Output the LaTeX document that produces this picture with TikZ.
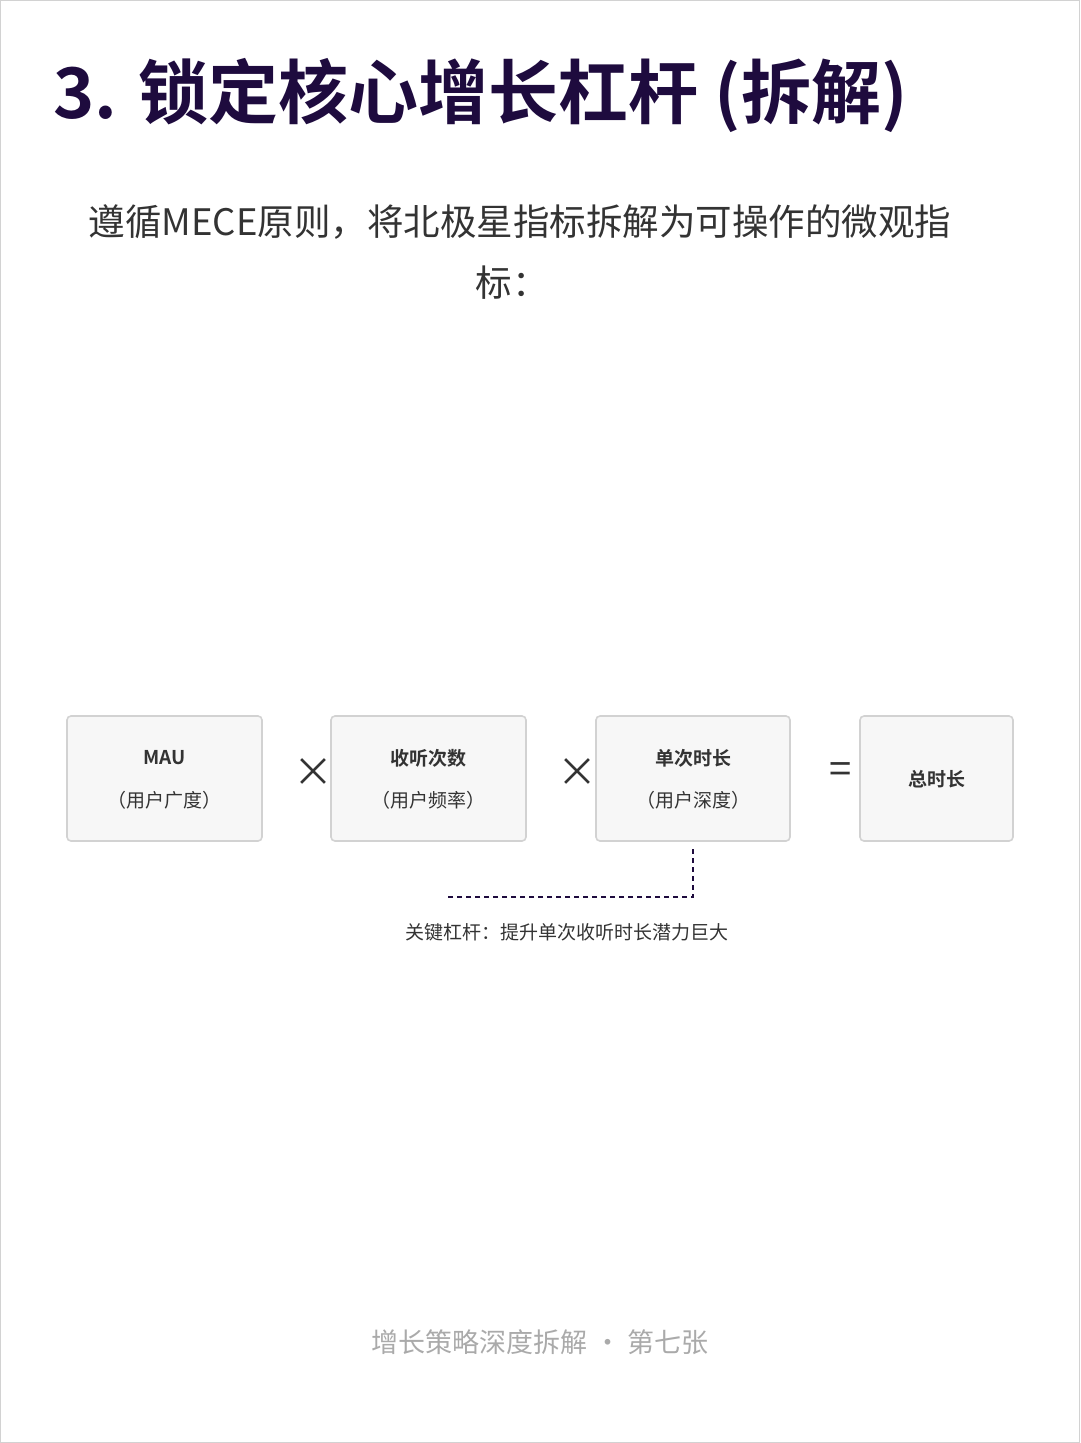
\documentclass[tikz,border=0pt]{standalone}
\usepackage{fontspec}
\setmainfont{Noto Sans CJK SC}
\newfontfamily\cjkb{Noto Sans CJK SC Bold}
\definecolor{titlec}{HTML}{1E0B3E}
\definecolor{boxfill}{HTML}{F7F7F7}
\definecolor{boxline}{HTML}{D2D2D2}
\definecolor{textc}{HTML}{333333}
\definecolor{footc}{HTML}{AAAAAA}
\begin{document}
\begin{tikzpicture}[x=1pt,y=-1pt,
  mbox/.style={draw=boxline,line width=1.6pt,fill=boxfill,rounded corners=4pt,minimum height=125pt,inner sep=0pt},
  small/.style={font=\fontsize{19}{22}\selectfont,text=textc},
  op/.style={font=\fontsize{40}{40}\selectfont,text=textc}]
\useasboundingbox (0,0) rectangle (1080,1443);
\draw[boxline,line width=1pt] (0.5,0.5) rectangle (1079.5,1442.5);
\node[anchor=west,text=titlec,font=\cjkb\fontsize{70}{70}\selectfont] (title) at (50,95) {3. 锁定核心增长杠杆 (拆解)};
\node[text=textc,font=\fontsize{36.5}{40}\selectfont] (sub1) at (520,222) {遵循MECE原则，将北极星指标拆解为可操作的微观指};
\node[text=textc,font=\fontsize{36.5}{40}\selectfont] (sub2) at (512,283) {标：};
\node[mbox,minimum width=195pt] (b1) at (164.5,778.5) {};
\node[mbox,minimum width=195pt] (b2) at (428.5,778.5) {};
\node[mbox,minimum width=194pt] (b3) at (693,778.5) {};
\node[mbox,minimum width=153pt] (b4) at (936.5,778.5) {};
\node[small,font=\cjkb\fontsize{19}{22}\selectfont] (t1a) at (164.5,758) {MAU};
\node[small] (t1b) at (164.5,800) {（用户广度）};
\node[small,font=\cjkb\fontsize{19}{22}\selectfont] (t2a) at (428.5,758) {收听次数};
\node[small] (t2b) at (428.5,800) {（用户频率）};
\node[small,font=\cjkb\fontsize{19}{22}\selectfont] (t3a) at (693,758) {单次时长};
\node[small] (t3b) at (693,800) {（用户深度）};
\node[small,font=\cjkb\fontsize{19}{22}\selectfont] (t4a) at (936.5,779) {总时长};
\node[op] (x1) at (313,773) {×};
\node[op] (x2) at (577,773) {×};
\node[op] (eq) at (841,773) {=};
\coordinate (d1) at (693,849);
\coordinate (d2) at (693,897);
\coordinate (d3) at (447,897);
\draw[titlec,line width=2pt,dash pattern=on 5pt off 4pt] (d1) -- (d2) -- (d3);
\node[small] (key) at (567,932) {关键杠杆：提升单次收听时长潜力巨大};
\node[text=footc,font=\fontsize{27}{30}\selectfont] (foot) at (540,1342) {增长策略深度拆解 · 第七张};
\end{tikzpicture}
\end{document}
